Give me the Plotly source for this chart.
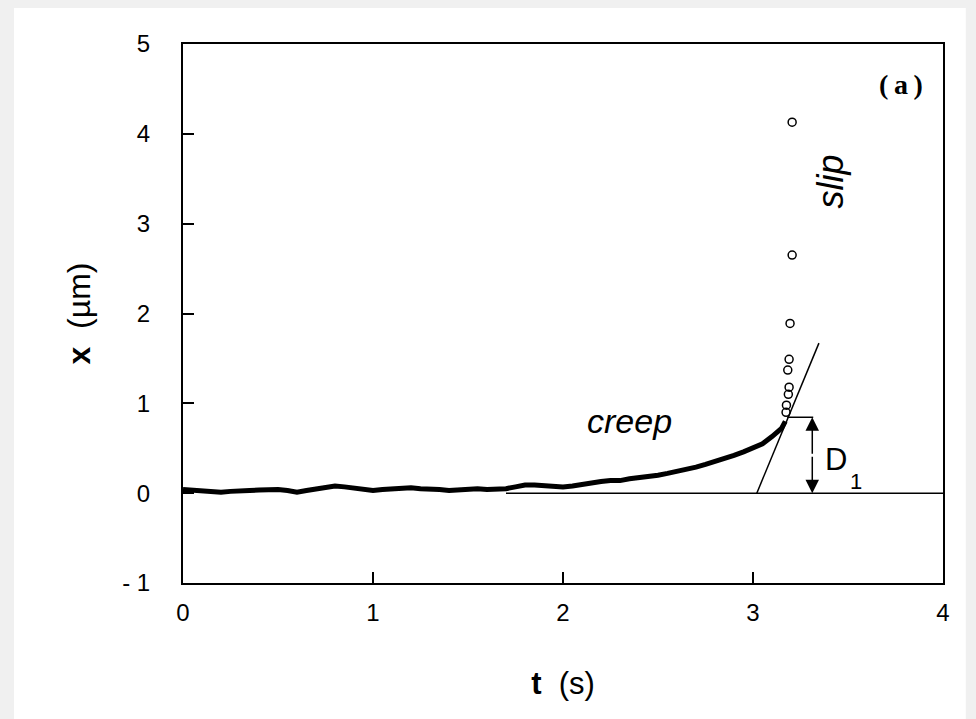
import plotly.graph_objects as go

# creep trace (t in s, x in µm)
creep_t = [0.00, 0.05, 0.10, 0.15, 0.20, 0.25, 0.30, 0.35, 0.40, 0.45, 0.50, 0.55, 0.60, 0.65,
           0.70, 0.75, 0.80, 0.85, 0.90, 0.95, 1.00, 1.05, 1.10, 1.15, 1.20, 1.25, 1.30, 1.35,
           1.40, 1.45, 1.50, 1.55, 1.60, 1.65, 1.70, 1.75, 1.80, 1.85, 1.90, 1.95, 2.00, 2.05,
           2.10, 2.15, 2.20, 2.25, 2.30, 2.35, 2.40, 2.45, 2.50, 2.55, 2.60, 2.65, 2.70, 2.75,
           2.80, 2.85, 2.90, 2.95, 3.00, 3.05, 3.10, 3.15, 3.17]
creep_x = [0.04, 0.03, 0.03, 0.02, 0.01, 0.02, 0.02, 0.03, 0.035, 0.04, 0.04, 0.03, 0.01, 0.03,
           0.05, 0.07, 0.08, 0.07, 0.06, 0.04, 0.03, 0.04, 0.05, 0.06, 0.06, 0.05, 0.05, 0.04,
           0.03, 0.04, 0.04, 0.05, 0.04, 0.04, 0.05, 0.07, 0.09, 0.09, 0.08, 0.08, 0.07, 0.08,
           0.10, 0.12, 0.13, 0.14, 0.14, 0.16, 0.17, 0.18, 0.20, 0.22, 0.24, 0.26, 0.29, 0.32,
           0.35, 0.38, 0.42, 0.46, 0.50, 0.55, 0.63, 0.72, 0.80]

# slip points (open circles)
slip_t = [3.174, 3.176, 3.186, 3.190, 3.183, 3.190, 3.195, 3.206, 3.206]
slip_x = [0.90, 0.98, 1.10, 1.18, 1.37, 1.49, 1.89, 2.65, 4.13]

# construction lines
baseline_t = [1.70, 4.00]
baseline_x = [0.0, 0.0]
tangent_t = [3.02, 3.347]
tangent_x = [0.0, 1.67]
d1_top_t = [3.18, 3.317]
d1_top_x = [0.845, 0.845]
d1_arrow_t = 3.312

x_ticks = [0, 1, 2, 3, 4]
y_ticks = [-1, 0, 1, 2, 3, 4, 5]
y_ticktext = ["- 1", "0", "1", "2", "3", "4", "5"]

FONT = "Liberation Sans, Arial"

fig = go.Figure()

fig.add_trace(go.Scatter(x=baseline_t, y=baseline_x, mode="lines",
                         line=dict(color="black", width=1.5), hoverinfo="skip"))
fig.add_trace(go.Scatter(x=creep_t, y=creep_x, mode="lines",
                         line=dict(color="black", width=5), hoverinfo="skip"))
fig.add_trace(go.Scatter(x=tangent_t, y=tangent_x, mode="lines",
                         line=dict(color="black", width=1.5), hoverinfo="skip"))
fig.add_trace(go.Scatter(x=d1_top_t, y=d1_top_x, mode="lines",
                         line=dict(color="black", width=1.5), hoverinfo="skip"))
fig.add_trace(go.Scatter(x=slip_t, y=slip_x, mode="markers",
                         marker=dict(symbol="circle-open", size=8, color="black",
                                     line=dict(width=1.5, color="black")),
                         hoverinfo="skip"))

ann = []
mid = d1_top_x[0] / 2
for yend in (d1_top_x[0], 0.0):
    ann.append(dict(x=d1_arrow_t, y=yend, ax=d1_arrow_t, ay=mid, xref="x", yref="y",
                    axref="x", ayref="y", showarrow=True, arrowhead=2, arrowsize=1.8,
                    arrowwidth=1.5, arrowcolor="black", text=""))

ann += [
    dict(x=2.35, y=0.80, text="<i>creep</i>", showarrow=False,
         font=dict(family=FONT, size=34, color="black")),
    dict(x=3.405, y=3.47, text="<i>slip</i>", showarrow=False, textangle=-90,
         font=dict(family=FONT, size=36, color="black")),
    dict(x=3.78, y=4.55, text="<b>(\u2009a\u2009)</b>", showarrow=False,
         font=dict(family="Liberation Serif, Times New Roman", size=28, color="black")),
    dict(x=3.435, y=0.37, text="D", showarrow=False,
         font=dict(family=FONT, size=31, color="black")),
    dict(x=3.54, y=0.13, text="1", showarrow=False,
         font=dict(family=FONT, size=22, color="black")),
]

fig.update_layout(
    width=968, height=711,
    margin=dict(l=175, r=33, t=36, b=136),
    paper_bgcolor="#f0f0f0",
    plot_bgcolor="white",
    showlegend=False,
    annotations=ann,
    shapes=[dict(type="rect", xref="paper", yref="paper", x0=-0.2224, x1=1.030,
                 y0=-0.26, y1=1.0686, fillcolor="white", line=dict(width=0), layer="below")],
    font=dict(family=FONT, color="black"),
)

fig.update_xaxes(range=[0, 4], tickvals=x_ticks, ticks="inside", ticklen=11, tickwidth=1.5,
                 tickcolor="black", showline=True, linewidth=2, linecolor="black", mirror=True,
                 showgrid=False, zeroline=False, ticklabelstandoff=7,
                 tickfont=dict(family=FONT, size=24, color="black"),
                 title=dict(text="<b>t</b>  (s)", font=dict(family=FONT, size=31, color="black"),
                            standoff=48))
fig.update_yaxes(range=[-1, 5], tickvals=y_ticks, ticktext=y_ticktext, ticks="inside",
                 ticklen=11, tickwidth=1.5, tickcolor="black", showline=True, linewidth=2,
                 linecolor="black", mirror=True, showgrid=False, zeroline=False,
                 ticklabelstandoff=26,
                 tickfont=dict(family=FONT, size=24, color="black"),
                 title=dict(text="<b>x</b>  (µm)", font=dict(family=FONT, size=32, color="black"),
                            standoff=22))

fig.write_html("out.html", post_script="document.body.style.background='#f0f0f0';")
